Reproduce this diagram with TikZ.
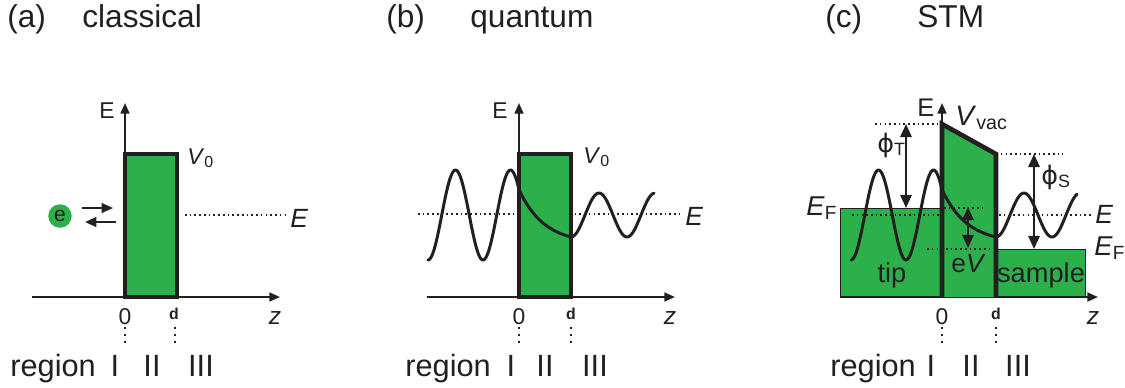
\documentclass[tikz,border=0pt]{standalone}
\usepackage{fontspec}
\setmainfont{Liberation Sans}
\newfontfamily\phifont{DejaVu Sans}
\usetikzlibrary{arrows.meta}

\definecolor{barriergreen}{RGB}{44,176,75}
\definecolor{inkdark}{RGB}{35,31,32}

\newcommand{\sublab}[2]{#1\textsubscript{\upshape #2}}

\tikzset{
  axisline/.style={draw=inkdark, line width=1.1pt, -{Triangle[length=6pt,width=5pt]}},
  barrier/.style={fill=barriergreen, draw=inkdark, line width=2.2pt},
  wavefn/.style={draw=inkdark, line width=1.7pt, line cap=round, line join=round},
  levelline/.style={draw=inkdark, line width=0.9pt, dash pattern=on 0.9pt off 1.8pt},
  tickdots/.style={draw=inkdark, line width=1.3pt, dash pattern=on 1.3pt off 2.7pt},
  energyarrow/.style={draw=inkdark, line width=1.2pt, {Triangle[length=7.5pt,width=6.5pt]}-{Triangle[length=7.5pt,width=6.5pt]}},
  lab/.style={inner sep=0pt, text=inkdark},
  title/.style={lab, font=\fontsize{18}{21}\selectfont},
  region/.style={lab, font=\fontsize{17.5}{20}\selectfont},
  axislab/.style={lab, font=\fontsize{13}{15}\selectfont},
  dlab/.style={lab, font=\fontsize{9}{10}\selectfont\bfseries},
  zlab/.style={lab, font=\fontsize{14}{16}\selectfont\itshape},
  potlab/.style={lab, font=\fontsize{13}{15}\selectfont},
  elab/.style={lab, font=\fontsize{15}{17}\selectfont\itshape},
  stmlab/.style={lab, font=\fontsize{14.5}{16}\selectfont},
}

\begin{document}
\begin{tikzpicture}[x=0.02cm, y=-0.02cm]
  \useasboundingbox (0,0) rectangle (1125,387);

  % Titles
  \node[title, anchor=base west] (ta) at (7,27) {(a)};
  \node[title, anchor=base west] (tanote) at (82,27) {classical};
  \node[title, anchor=base west] (tb) at (386,27) {(b)};
  \node[title, anchor=base west] (tbnote) at (470,27) {quantum};
  \node[title, anchor=base west] (tc) at (825,27) {(c)};
  \node[title, anchor=base west] (tcnote) at (917,27) {STM};

  % (a) classical barrier
  \draw[levelline] (185,215) -- (287,215);
  \draw[axisline] (125,297) -- (125,103);
  \draw[axisline] (32,297) -- (280,297);
  \draw[barrier] (125,297) rectangle (177,154);
  \node[circle, fill=barriergreen, inner sep=0pt, minimum size=0.47cm,
        font=\fontsize{12}{13}\selectfont, text=inkdark] (elec) at (60,216) {e};
  \coordinate (ainL) at (82,208);
  \coordinate (ainR) at (113,208);
  \coordinate (aoutR) at (116,222);
  \coordinate (aoutL) at (85,222);
  \draw[draw=inkdark, line width=1.2pt, -{Triangle[length=6.5pt,width=5.5pt]}] (ainL) -- (ainR);
  \draw[draw=inkdark, line width=1.2pt, -{Triangle[length=6.5pt,width=5.5pt]}] (aoutR) -- (aoutL);

  \node[axislab, anchor=base west] (aE) at (99,118) {E};
  \node[potlab, anchor=base west] (aV) at (187,164) {\sublab{\textit{V}}{0}};
  \node[elab, anchor=base west] (aEl) at (290,227) {E};
  \node[axislab, anchor=base] (a0) at (125,324) {0};
  \node[dlab, anchor=base] (ad) at (174,319) {d};
  \node[zlab, anchor=base] (az) at (275,324) {z};
  \draw[tickdots] (125,327) -- (125,347);
  \draw[tickdots] (175,327) -- (175,347);
  \node[region, anchor=base west] (areg) at (10,376) {region};
  \node[region, anchor=base] (aI) at (115,376) {I};
  \node[region, anchor=base] (aII) at (152,376) {II};
  \node[region, anchor=base] (aIII) at (201,376) {III};

  % (b) quantum tunnelling
  \draw[levelline] (418,214) -- (683,214);
  \draw[axisline] (519,297) -- (519,103);
  \draw[axisline] (427,297) -- (675,297);
  \draw[barrier] (519,297) rectangle (571,154);
  \draw[wavefn] plot[domain=428:519, samples=80] (\x,{215+45*cos(6.5455*(\x-428))})
    -- plot[domain=519:571, samples=30] (\x,{243.8-54.3*exp(-(\x-519)/25)})
    -- plot[domain=571:654, samples=60] (\x,{215+22*cos(6.4286*(\x-571))});

  \node[axislab, anchor=base west] (bE) at (492,118) {E};
  \node[potlab, anchor=base west] (bV) at (583,163) {\sublab{\textit{V}}{0}};
  \node[elab, anchor=base west] (bEl) at (685,225) {E};
  \node[axislab, anchor=base] (b0) at (519,324) {0};
  \node[dlab, anchor=base] (bd) at (571,319) {d};
  \node[zlab, anchor=base] (bz) at (670,324) {z};
  \draw[tickdots] (519,327) -- (519,347);
  \draw[tickdots] (571,327) -- (571,347);
  \node[region, anchor=base west] (breg) at (405,376) {region};
  \node[region, anchor=base] (bI) at (511,376) {I};
  \node[region, anchor=base] (bII) at (545,376) {II};
  \node[region, anchor=base] (bIII) at (595,376) {III};

  % (c) STM junction
  \draw[fill=barriergreen, draw=inkdark, line width=0.5pt] (840,297) rectangle (942,208);
  \draw[fill=barriergreen, draw=inkdark, line width=0.5pt] (996,297) rectangle (1085,249);
  \draw[levelline] (852,215) -- (1092,215);
  \draw[levelline] (875,124) -- (942,124);
  \draw[levelline] (996,154) -- (1063,154);
  \draw[axisline] (942,297) -- (942,103);
  \draw[axisline] (840,297) -- (1098,297);
  \fill[barriergreen] (942,297) -- (942,124) -- (996,154) -- (996,297) -- cycle;
  \draw[levelline] (944,208) -- (983,208);
  \draw[levelline] (927,249) -- (993,249);
  \draw[draw=inkdark, line width=2.6pt, line join=miter] (942,297) -- (942,124) -- (996,154) -- (996,297);
  \draw[wavefn] plot[domain=851:942, samples=80] (\x,{215+45*cos(6.5455*(\x-851))})
    -- plot[domain=942:996, samples=30] (\x,{243.2-53.6*exp(-(\x-942)/25)})
    -- plot[domain=996:1077, samples=60] (\x,{215+22*cos(6.4286*(\x-996))});

  \coordinate (tipvac) at (906,124);
  \coordinate (tipfermi) at (906,208);
  \coordinate (samvac) at (1034,154);
  \coordinate (samfermi) at (1034,249);
  \coordinate (biashigh) at (968,207);
  \coordinate (biaslow) at (968,248);
  \draw[energyarrow] (tipvac) -- (tipfermi);
  \draw[energyarrow] (samvac) -- (samfermi);
  \draw[energyarrow] (biashigh) -- (biaslow);

  \node[lab, anchor=base west, font=\fontsize{14.5}{16}\selectfont] (cE) at (917,116) {E};
  \node[lab, anchor=base west, font=\fontsize{16}{18}\selectfont] (cV) at (955,125) {\textit{V}\textsubscript{vac}};
  \node[stmlab, anchor=base west] (phiT) at (877,152) {{\phifont ϕ}\textsubscript{T}};
  \node[stmlab, anchor=base west] (phiS) at (1041,184) {{\phifont ϕ}\textsubscript{S}};
  \node[lab, anchor=base west, font=\fontsize{15.5}{17}\selectfont] (cEFl) at (806,215) {\sublab{\textit{E}}{F}};
  \node[elab, anchor=base west] (cEl) at (1095,223) {E};
  \node[lab, anchor=base west, font=\fontsize{15.5}{17}\selectfont] (cEFr) at (1094,255) {\sublab{\textit{E}}{F}};
  \node[lab, anchor=base west, font=\fontsize{15}{17}\selectfont] (ceV) at (951,272) {e\textit{V}};
  \node[lab, anchor=base, font=\fontsize{15.5}{17}\selectfont] (ctip) at (892,282) {tip};
  \node[lab, anchor=base, font=\fontsize{15.5}{17}\selectfont] (csam) at (1041,282) {sample};
  \node[axislab, anchor=base] (c0) at (942,324) {0};
  \node[dlab, anchor=base] (cd) at (996,319) {d};
  \node[zlab, anchor=base] (cz) at (1093,324) {z};
  \draw[tickdots] (942,327) -- (942,347);
  \draw[tickdots] (996,327) -- (996,347);
  \node[region, anchor=base west] (creg) at (830,376) {region};
  \node[region, anchor=base] (cI) at (931,376) {I};
  \node[region, anchor=base] (cII) at (971,376) {II};
  \node[region, anchor=base] (cIII) at (1018,376) {III};
\end{tikzpicture}
\end{document}
